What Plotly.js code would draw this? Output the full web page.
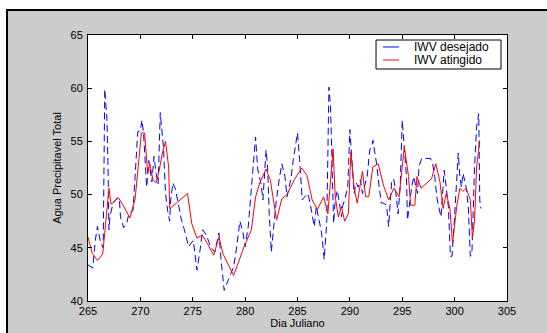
<!DOCTYPE html>
<html>
<head>
<meta charset="utf-8">
<script src="https://cdn.plot.ly/plotly-3.0.1.min.js"></script>
<style>
  html, body { margin: 0; padding: 0; background: #ffffff; width: 547px; height: 333px; overflow: hidden; }
  #wrap { position: absolute; left: 6px; top: 9px; width: 539px; height: 322px;
          border-left: 2px solid #000; border-top: 2px solid #000; background: #cccccc; }
  #plot { width: 539px; height: 322px; }
</style>
</head>
<body>
<div id="wrap"><div id="plot"></div></div>
<script>
// IWV desejado (blue dashed)
const diaDesejado = [265.0,265.45,265.7,265.9,266.2,266.45,266.6,266.8,266.9,267.0,267.1,267.4,267.8,268.0,268.1,268.4,268.7,268.9,269.3,269.6,269.75,270.0,270.15,270.3,270.5,270.6,270.8,271.0,271.1,271.2,271.3,271.5,271.7,271.9,272.1,272.2,272.4,272.6,272.8,272.9,273.1,273.35,273.55,273.9,274.2,274.6,275.05,275.4,275.7,275.95,276.3,276.7,277.1,277.5,277.7,278.0,278.4,278.9,279.2,279.5,279.8,280.0,280.3,280.6,280.85,281.0,281.2,281.5,281.7,282.0,282.15,282.3,282.5,282.7,282.95,283.2,283.5,283.8,284.0,284.2,284.4,284.6,284.8,285.0,285.2,285.45,285.7,286.0,286.2,286.4,286.6,286.8,287.0,287.3,287.55,287.8,287.9,288.0,288.15,288.3,288.45,288.6,288.8,289.0,289.2,289.3,289.5,289.8,290.0,290.2,290.4,290.6,290.8,291.0,291.2,291.4,291.65,291.9,292.1,292.2,292.4,292.55,292.8,293.0,293.2,293.5,293.7,293.9,294.0,294.2,294.4,294.6,294.8,295.0,295.2,295.4,295.5,295.7,295.9,296.1,296.3,296.45,296.6,296.85,297.05,297.7,297.9,298.1,298.3,298.4,298.7,298.9,299.0,299.2,299.4,299.6,299.75,299.9,300.05,300.2,300.35,300.5,300.65,300.8,301.1,301.3,301.5,301.65,301.9,302.1,302.3,302.4,302.5];
const iwvDesejado = [43.4,43.1,45.7,47.0,45.5,45.0,59.9,57.2,53.2,46.7,48.0,49.2,49.7,49.5,47.9,46.9,47.3,48.2,48.5,53.3,55.9,56.0,57.0,55.8,52.3,50.7,53.2,52.0,51.2,52.4,53.6,52.0,51.0,57.7,55.4,54.5,50.1,48.5,47.5,49.5,51.1,50.5,49.5,47.7,46.7,45.1,45.7,42.9,44.8,46.7,46.2,45.1,44.6,46.4,43.9,41.0,42.0,43.2,45.1,47.5,46.4,45.1,47.0,50.7,53.2,55.4,52.4,51.1,49.5,54.2,52.5,48.2,44.6,47.0,49.2,51.1,52.9,51.7,49.8,50.7,51.7,53.3,54.8,55.8,53.3,49.5,49.8,50.1,49.2,47.9,47.0,48.9,48.0,46.4,43.9,47.6,53.9,60.1,58.3,53.2,47.3,49.5,50.4,49.2,47.9,48.9,49.5,50.7,56.1,53.2,50.1,51.1,50.7,51.4,50.1,50.8,51.7,54.2,54.5,55.1,53.8,52.9,50.7,49.2,49.2,49.0,47.0,49.5,51.4,51.4,50.1,48.2,50.7,57.0,54.5,51.7,47.6,49.2,50.7,51.7,50.7,50.1,52.6,53.4,53.4,53.4,52.9,51.7,49.8,49.2,47.9,50.7,52.3,50.7,48.9,44.2,44.2,46.4,49.2,52.0,53.9,51.7,50.7,52.0,50.7,48.9,44.2,44.5,52.6,56.4,57.6,49.5,48.7];

// IWV atingido (red solid)
const diaAtingido = [265.0,265.4,265.9,266.4,266.6,267.0,267.2,267.9,268.3,269.0,269.5,269.9,270.1,270.4,270.7,270.9,271.2,271.5,271.8,272.1,272.4,272.7,272.8,273.2,274.5,274.9,275.4,275.9,276.4,277.0,277.5,277.9,278.9,279.9,280.6,281.0,281.4,282.0,282.4,283.0,283.5,284.0,284.7,285.4,285.9,286.4,286.9,287.5,287.9,288.4,288.6,288.9,289.2,289.5,289.85,290.1,290.4,290.7,291.2,291.5,291.8,292.2,292.7,293.2,293.7,294.2,294.7,295.2,295.6,295.8,296.2,296.4,296.8,297.8,298.2,298.6,298.9,299.2,299.55,299.8,300.2,300.5,300.8,301.1,301.5,301.7,301.9,302.1,302.4];
const iwvAtingido = [46.0,44.5,43.8,44.4,46.4,50.6,49.1,49.7,49.1,47.8,49.6,53.7,55.8,55.8,52.0,52.9,51.4,51.1,52.3,53.9,55.0,52.6,48.7,49.0,50.1,47.3,45.9,46.2,45.4,44.3,46.0,44.4,42.4,45.1,46.7,49.8,51.1,52.4,51.4,47.6,49.6,50.0,51.4,52.5,51.8,49.5,48.6,49.8,48.2,54.3,49.8,47.9,48.9,47.5,48.2,54.0,50.7,49.2,52.2,49.8,49.8,52.6,52.9,50.9,49.5,50.6,49.8,54.5,51.7,49.0,49.0,51.7,50.6,51.5,52.9,51.2,48.7,50.1,48.7,45.4,48.9,50.6,50.3,50.6,49.5,45.9,47.6,52.6,55.1];

const xTicks = [265,270,275,280,285,290,295,300,305];
const yTicks = [40,45,50,55,60,65];
const nomes = ['IWV desejado', 'IWV atingido'];
const cores = ['#0000ff', '#ff0000'];

const font = {family: 'Liberation Sans, Arial, sans-serif', size: 11, color: '#000'};
const legFont = {family: 'Liberation Sans, Arial, sans-serif', size: 12, color: '#000'};

const traces = [
  {x: diaDesejado, y: iwvDesejado, name: nomes[0], type: 'scatter', mode: 'lines',
   line: {color: cores[0], width: 1, dash: '7px,4px'}},
  {x: diaAtingido, y: iwvAtingido, name: nomes[1], type: 'scatter', mode: 'lines',
   line: {color: cores[1], width: 1}}
];

// MATLAB-style compact legend box (paper coordinates)
const legBox = {x0: 0.6874, x1: 0.9857, y0: 0.8722, y1: 0.9812};
const legRows = [0.9549, 0.9060];
const shapes = [
  {type: 'rect', xref: 'paper', yref: 'paper', x0: legBox.x0, x1: legBox.x1, y0: legBox.y0, y1: legBox.y1,
   line: {color: '#000', width: 1}, fillcolor: '#ffffff', layer: 'above'}
];
const annotations = [];
nomes.forEach((n, i) => {
  shapes.push({type: 'line', xref: 'paper', yref: 'paper', x0: 0.7041, x1: 0.7422, y0: legRows[i], y1: legRows[i],
               line: {color: cores[i], width: 1}, layer: 'above'});
  annotations.push({xref: 'paper', yref: 'paper', x: 0.7733, y: legRows[i], xanchor: 'left', yanchor: 'middle',
                    text: n, showarrow: false, font: legFont});
});

const axisCommon = {
  showgrid: false, zeroline: false, showline: true, linecolor: '#000', linewidth: 1,
  mirror: 'ticks', ticks: 'inside', ticklen: 4, tickcolor: '#000', tickwidth: 1,
  tickfont: font
};

const layout = {
  width: 539, height: 322,
  margin: {l: 80, r: 40, t: 24, b: 32},
  paper_bgcolor: 'rgba(0,0,0,0)', plot_bgcolor: '#ffffff',
  font: font,
  showlegend: false,
  shapes: shapes,
  annotations: annotations,
  xaxis: Object.assign({}, axisCommon, {range: [265, 305], tickvals: xTicks, ticktext: xTicks.map(String),
           title: {text: 'Dia Juliano', font: font, standoff: 2}, ticklabelstandoff: 0}),
  yaxis: Object.assign({}, axisCommon, {range: [40, 65], tickvals: yTicks, ticktext: yTicks.map(String),
           title: {text: 'Agua Precipitavel Total', font: font, standoff: 6}, ticklabelstandoff: 2})
};

Plotly.newPlot('plot', traces, layout, {displayModeBar: false, staticPlot: true});
</script>
</body>
</html>
